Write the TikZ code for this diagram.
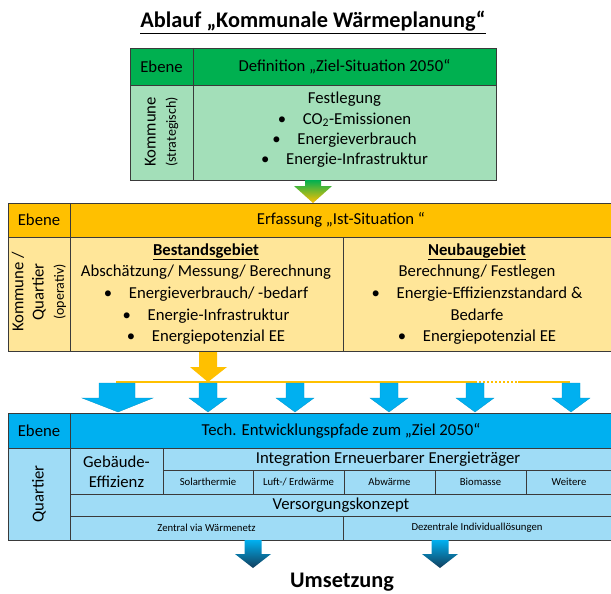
\documentclass[tikz,border=0pt]{standalone}
\usepackage{fontspec}
\setmainfont{Carlito}
\usepackage{tikz}

\definecolor{zielgruen}{HTML}{00B050}
\definecolor{zielhell}{HTML}{A3DFB9}
\definecolor{istorange}{HTML}{FFC000}
\definecolor{isthell}{HTML}{FFE699}
\definecolor{techblau}{HTML}{00B0F0}
\definecolor{techhell}{HTML}{9FDCF6}
\definecolor{techdunkel}{HTML}{123E5C}
\definecolor{rahmen}{HTML}{3A3A3A}

\newcommand{\titeltext}{\fontsize{22.3}{26}\selectfont\bfseries}
\newcommand{\normaltext}{\fontsize{16.7}{20.3}\selectfont}
\newcommand{\isttext}{\fontsize{16.7}{21.6}\selectfont}
\newcommand{\kleintext}{\fontsize{14}{15}\selectfont}
\newcommand{\zelltext}{\fontsize{10.7}{12}\selectfont}

\begin{document}
\begin{tikzpicture}[x=1pt, y=-1pt,
    feld/.style={draw=rahmen, line width=.8},
    txt/.style={inner sep=0, font=\normaltext},
    zelle/.style={inner sep=0, font=\zelltext},
    blaupfeil/.style={fill=techblau, draw=techblau!85!black, line width=.3}]
    \useasboundingbox (0,0) rectangle (611,594);

    \path (313,28) node[anchor=base, inner sep=0, font=\titeltext] (titel) {\underline{Ablauf „Kommunale Wärmeplanung“}};

    % Ziel-Situation
    \draw[feld, fill=zielgruen] (130,48) rectangle (496,85);
    \draw[feld, fill=zielhell] (130,85) rectangle (496,180);
    \draw[feld] (193,48) -- (193,180);
    \path (161.5,66.5) node[txt] (ebene1) {Ebene};
    \path (344.5,66.5) node[txt] (ziel) {Definition „Ziel-Situation 2050“};
    \path (161.5,132) node[txt, rotate=90, align=center] (kommune) {Kommune\\{\kleintext(strategisch)}};
    \path (344.5,130) node[txt, align=center] (festlegung) {Festlegung\\ •\quad CO\textsubscript{2}-Emissionen\\ •\quad Energieverbrauch\\ •\quad Energie-Infrastruktur};

    \shade[top color=zielgruen, bottom color=istorange] (305,180) -- (321,180) -- (321,186) -- (332,186) -- (313,203) -- (294,186) -- (305,186) -- cycle;

    % Ist-Situation
    \draw[feld, fill=istorange] (8,203) rectangle (613,237);
    \draw[feld, fill=isthell] (8,237) rectangle (613,351);
    \draw[feld] (70,203) -- (70,351);
    \draw[feld] (343,237) -- (343,351);
    \path (39,220) node[txt] (ebene2) {Ebene};
    \path (341,220) node[txt] (erfassung) {Erfassung „Ist-Situation “};
    \path (39,292) node[txt, rotate=90, align=center] (quartier1) {Kommune /\\Quartier\\{\kleintext(operativ)}};
    \path (206,294) node[txt, font=\isttext, align=center] (bestand) {\textbf{\underline{Bestandsgebiet}}\\Abschätzung/ Messung/ Berechnung\\ •\quad Energieverbrauch/ -bedarf\\ •\quad Energie-Infrastruktur\\ •\quad Energiepotenzial EE};
    \path (477,294) node[txt, font=\isttext, align=center] (neubau) {\textbf{\underline{Neubaugebiet}}\\Berechnung/ Festlegen\\ •\quad Energie-Effizienzstandard \&\\Bedarfe\\ •\quad Energiepotenzial EE};

    \draw[istorange, line width=2] (116,382) -- (475,382);
    \draw[istorange, line width=2, dotted] (475,382) -- (518,382);
    \draw[istorange, line width=2] (518,382) -- (570,382);
    \fill[istorange] (199,352) -- (217,352) -- (217,367) -- (227,367) -- (208,382) -- (190,367) -- (199,367) -- cycle;

    \draw[blaupfeil] (99,383) -- (135,383) -- (135,398) -- (153,398) -- (118,412) -- (82,398) -- (99,398) -- cycle;
    \foreach \c in {208,295,389,475,571}
      \draw[blaupfeil] ({\c-9},383) -- ({\c+9},383) -- ({\c+9},398) -- ({\c+19},398) -- (\c,412) -- ({\c-19},398) -- ({\c-9},398) -- cycle;

    % Entwicklungspfade
    \draw[feld, fill=techblau] (8,413) rectangle (613,448);
    \draw[feld, fill=techhell] (8,448) rectangle (613,540);
    \draw[feld] (70,413) -- (70,540);
    \draw[feld] (163,448) -- (163,494);
    \draw[feld] (163,470) -- (613,470);
    \draw[feld] (70,494) -- (613,494);
    \draw[feld] (70,516) -- (613,516);
    \foreach \xs in {253,344,435,526}
      \draw[feld] (\xs,470) -- (\xs,494);
    \draw[feld] (343,516) -- (343,540);
    \path (39,431) node[txt] (ebene3) {Ebene};
    \path (341,431) node[txt] (pfade) {Tech. Entwicklungspfade zum „Ziel 2050“};
    \path (39,494) node[txt, rotate=90] (quartier2) {Quartier};
    \path (116.5,472) node[txt, align=center] (gebaeude) {Gebäude-\\Effizienz};
    \path (388,459) node[txt] (integration) {Integration Erneuerbarer Energieträger};
    \path (208,482) node[zelle] (solar) {Solarthermie};
    \path (298.5,482) node[zelle] (luft) {Luft-/ Erdwärme};
    \path (389.5,482) node[zelle] (abwaerme) {Abwärme};
    \path (480.5,482) node[zelle] (biomasse) {Biomasse};
    \path (569,482) node[zelle] (weitere) {Weitere};
    \path (341,505) node[txt] (versorgung) {Versorgungskonzept};
    \path (206.5,528) node[zelle] (zentral) {Zentral via Wärmenetz};
    \path (477,528) node[zelle] (dezentral) {Dezentrale Individuallösungen};

    \foreach \c in {253,440}
      \shade[top color=techblau, bottom color=techdunkel] ({\c-8.5},540) -- ({\c+8.5},540) -- ({\c+8.5},554) -- ({\c+18},554) -- (\c,568) -- ({\c-18},554) -- ({\c-8.5},554) -- cycle;

    \path (342,587) node[anchor=base, inner sep=0, font=\titeltext] (umsetzung) {Umsetzung};
\end{tikzpicture}
\end{document}
